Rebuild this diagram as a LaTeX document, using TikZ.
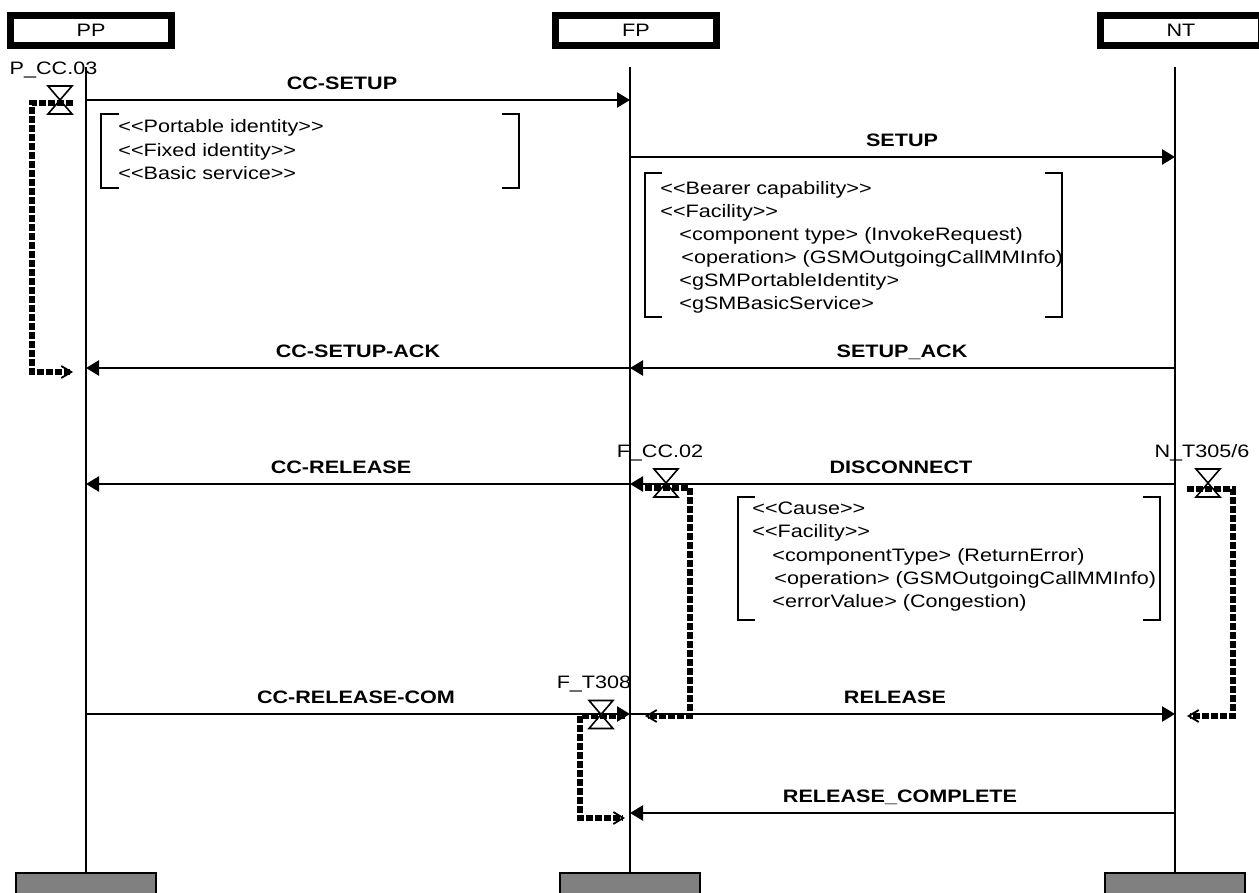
\documentclass[tikz,border=0pt]{standalone}
\usepackage{fontspec}
\setmainfont{Liberation Sans}[FakeStretch=1.2]
\usetikzlibrary{arrows.meta}
\newcommand\dlt{<\kern0pt<}
\newcommand\dgt{>\kern0pt>}
\tikzset{
    entity/.style={draw=black, line width=3.5pt, minimum width=80.5pt, minimum height=15pt, inner sep=0pt, font=\fontsize{9}{11}\selectfont},
    foot/.style={draw=black, fill=black!50, line width=1pt, minimum width=70pt, minimum height=30pt, anchor=north},
    life/.style={line width=1.3pt},
    msg/.style={line width=1.3pt, -{Triangle[length=6.5pt, width=7.5pt]}},
    msgname/.style={font=\fontsize{9}{11}\selectfont\bfseries, inner sep=0pt, anchor=base},
    ie/.style={font=\fontsize{9}{11}\selectfont, inner sep=0pt, anchor=base west},
    bracket/.style={line width=1.1pt},
    timerline/.style={line width=2.8pt, dash pattern=on 3.5pt off 1pt, -{Straight Barb[length=5pt, width=6pt, line width=0.9pt]}},
    timername/.style={font=\fontsize{9}{11}\selectfont, inner sep=0pt, anchor=base},
    pics/hourglass/.style={code={\draw[line width=0.8pt] (-12,-14) -- (12,-14) -- (-12,14) -- (12,14) -- cycle;}},
}
\begin{document}
\begin{tikzpicture}[x=0.5pt, y=-0.5pt]
    \newcommand\posPP{86}
    \newcommand\posFP{630}
    \newcommand\posNT{1175}
    \useasboundingbox (0,0) rectangle (1259,893);

    % entities and lifelines
    \node[entity] (PP) at (91, 30.5){PP};
    \node[entity] (FP) at (636, 30.5){FP};
    \node[entity] (NT) at (1181, 30.5){NT};
    \node[foot] (PPend) at (\posPP, 872){};
    \node[foot] (FPend) at (\posFP, 872){};
    \node[foot] (NTend) at (\posNT, 872){};
    \coordinate (PPtop) at (\posPP, 67);
    \coordinate (FPtop) at (\posFP, 67);
    \coordinate (NTtop) at (\posNT, 67);
    \draw[life] (PPtop) -- (PPend.north);
    \draw[life] (FPtop) -- (FPend.north);
    \draw[life] (NTtop) -- (NTend.north);

    % messages
    \coordinate (pp1) at (\posPP, 100);
    \coordinate (fp1) at (\posFP, 100);
    \coordinate (fp2) at (\posFP, 157);
    \coordinate (nt2) at (\posNT, 157);
    \coordinate (pp3) at (\posPP, 368);
    \coordinate (fp3) at (\posFP, 368);
    \coordinate (nt3) at (\posNT, 368);
    \coordinate (pp4) at (\posPP, 484);
    \coordinate (fp4) at (\posFP, 484);
    \coordinate (nt4) at (\posNT, 484);
    \coordinate (pp5) at (\posPP, 714);
    \coordinate (fp5) at (\posFP, 714);
    \coordinate (nt5) at (\posNT, 714);
    \coordinate (fp6) at (\posFP, 813);
    \coordinate (nt6) at (\posNT, 813);

    \draw[msg] (pp1) -- (fp1);
    \draw[msg] (fp2) -- (nt2);
    \draw[msg] (fp3) -- (pp3);
    \draw[msg] (nt3) -- (fp3);
    \draw[msg] (fp4) -- (pp4);
    \draw[msg] (nt4) -- (fp4);
    \draw[msg] (pp5) -- (fp5);
    \draw[msg] (fp5) -- (nt5);
    \draw[msg] (nt6) -- (fp6);

    \node[msgname] (mSetupCC) at (342, 89.5){CC-SETUP};
    \node[msgname] (mSetup) at (902, 147){SETUP};
    \node[msgname] (mSetupAckCC) at (358, 357.5){CC-SETUP-ACK};
    \node[msgname] (mSetupAck) at (902, 357.5){SETUP\_ACK};
    \node[msgname] (mRelCC) at (341, 473.5){CC-RELEASE};
    \node[msgname] (mDisc) at (901, 473.5){DISCONNECT};
    \node[msgname] (mRelComCC) at (356, 703.5){CC-RELEASE-COM};
    \node[msgname] (mRel) at (895, 703.5){RELEASE};
    \node[msgname] (mRelComp) at (900, 802.5){RELEASE\_COMPLETE};

    % information elements
    \draw[bracket] (119,114) -- (101,114) -- (101,188) -- (119,188);
    \draw[bracket] (502,114) -- (519,114) -- (519,188) -- (502,188);
    \node[ie] (ie1a) at (118, 133){\dlt Portable identity\dgt};
    \node[ie] (ie1b) at (118, 156.5){\dlt Fixed identity\dgt};
    \node[ie] (ie1c) at (118, 180){\dlt Basic service\dgt};

    \draw[bracket] (662,173) -- (645,173) -- (645,317) -- (662,317);
    \draw[bracket] (1045,173) -- (1062,173) -- (1062,317) -- (1045,317);
    \node[ie] (ie2a) at (660, 195){\dlt Bearer capability\dgt};
    \node[ie] (ie2b) at (660, 218){\dlt Facility\dgt};
    \node[ie] (ie2c) at (679, 241){<component type> (InvokeRequest)};
    \node[ie] (ie2d) at (681, 264){<operation> (GSMOutgoingCallMMInfo)};
    \node[ie] (ie2e) at (679, 287){<gSMPortableIdentity>};
    \node[ie] (ie2f) at (679, 310){<gSMBasicService>};

    \draw[bracket] (755,497) -- (738,497) -- (738,620) -- (755,620);
    \draw[bracket] (1143,497) -- (1160,497) -- (1160,620) -- (1143,620);
    \node[ie] (ie3a) at (752, 514){\dlt Cause\dgt};
    \node[ie] (ie3b) at (752, 537){\dlt Facility\dgt};
    \node[ie] (ie3c) at (772, 561){<componentType> (ReturnError)};
    \node[ie] (ie3d) at (774, 584){<operation> (GSMOutgoingCallMMInfo)};
    \node[ie] (ie3e) at (772, 607){<errorValue> (Congestion)};

    % timers
    \pic at (60,100) {hourglass};
    \node[timername] (tPCC03) at (53.5,75){P\_CC.03};
    \coordinate (tPCC03s) at (73,103);
    \coordinate (tPCC03e) at (73,372);
    \draw[timerline] (tPCC03s) -- ++(-41,0) |- (tPCC03e);

    \pic at (666,483) {hourglass};
    \node[timername] (tFCC02) at (660,458){F\_CC.02};
    \coordinate (tFCC02s) at (645,488);
    \coordinate (tFCC02e) at (645,716);
    \draw[timerline] (tFCC02s) -- ++(45,0) |- (tFCC02e);

    \pic at (1208,483) {hourglass};
    \node[timername] (tNT305) at (1202,458){N\_T305/6};
    \coordinate (tNT305s) at (1187,489);
    \coordinate (tNT305e) at (1187,716);
    \draw[timerline] (tNT305s) -- ++(46,0) |- (tNT305e);

    \pic at (601,714.5) {hourglass};
    \node[timername] (tFT308) at (594,688){F\_T308};
    \coordinate (tFT308s) at (625,716);
    \coordinate (tFT308e) at (625,818);
    \draw[timerline] (tFT308s) -- ++(-45,0) |- (tFT308e);
\end{tikzpicture}
\end{document}
